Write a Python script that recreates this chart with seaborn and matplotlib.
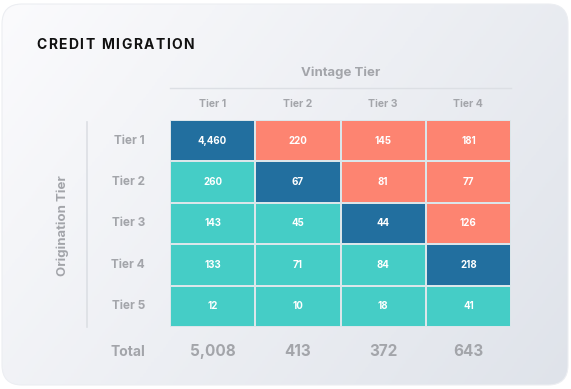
import numpy as np
import matplotlib.pyplot as plt
import seaborn as sns
from matplotlib.colors import ListedColormap, LinearSegmentedColormap
from matplotlib.patches import FancyBboxPatch

# data
origin_tiers = ["Tier 1", "Tier 2", "Tier 3", "Tier 4", "Tier 5"]
vintage_tiers = ["Tier 1", "Tier 2", "Tier 3", "Tier 4"]
counts = [
    [4460, 220, 145, 181],
    [260, 67, 81, 77],
    [143, 45, 44, 126],
    [133, 71, 84, 218],
    [12, 10, 18, 41],
]
totals = [5008, 413, 372, 643]

counts = np.array(counts)
rows, cols = np.indices(counts.shape)
# 0 = below diagonal, 1 = same tier, 2 = above diagonal
zone = np.sign(cols - rows) + 1
annot = np.vectorize(lambda v: f"{v:,}")(counts)

plt.rcParams['font.family'] = ['Inter', 'DejaVu Sans']
GREY = '#a3a5aa'

fig = plt.figure(figsize=(5.71, 3.89), dpi=100)

# card background with soft gradient
bg = fig.add_axes([0, 0, 1, 1])
bg.set_xlim(0, 571)
bg.set_ylim(389, 0)
bg.axis('off')
gx, gy = np.meshgrid(np.linspace(0, 1, 200), np.linspace(0, 1, 200))
grad = 0.65 * gx + 0.35 * gy
gcmap = LinearSegmentedColormap.from_list('card', ['#fbfbfd', '#dfe3ea'])
im = bg.imshow(grad, extent=[0, 571, 389, 0], cmap=gcmap, aspect='auto', zorder=0)
card = FancyBboxPatch((2, 4), 566, 381, boxstyle="round,pad=0,rounding_size=20",
                      fc='none', ec='#eceef2', lw=0.8, zorder=1)
bg.add_patch(card)
im.set_clip_path(card)

# title with letter spacing
renderer = fig.canvas.get_renderer()
x = 36
for ch in "CREDIT MIGRATION":
    t = bg.text(x, 49, ch, fontsize=10, fontweight='bold', color='#111111', va='baseline')
    w = t.get_window_extent(renderer).width
    if ch == ' ':
        w = 4
    x += w + 1.5

ax = fig.add_axes([170 / 571, 1 - 327 / 389, 341 / 571, 207 / 389])
cmap = ListedColormap(['#45cdc6', '#226f9f', '#fd8471'])
sns.heatmap(zone, cmap=cmap, vmin=-0.5, vmax=2.5, annot=annot, fmt='', cbar=False,
            linewidths=1.3, linecolor='#dbe6ea', ax=ax,
            annot_kws={'fontsize': 7, 'fontweight': 'bold', 'color': 'white'},
            xticklabels=vintage_tiers, yticklabels=origin_tiers)

ax.xaxis.tick_top()
ax.tick_params(axis='both', length=0, labelcolor=GREY)
ax.tick_params(axis='x', pad=8, labelsize=7.5)
ax.tick_params(axis='y', pad=18, labelsize=8.5)
plt.setp(ax.get_yticklabels(), rotation=0)
plt.setp(ax.get_xticklabels(), rotation=0)
for lab in ax.get_xticklabels() + ax.get_yticklabels():
    lab.set_fontweight('bold')

# axis headers
ax.text(2, -1.14, "Vintage Tier", ha='center', va='center', fontsize=9.5,
        fontweight='bold', color=GREY)
ax.plot([0, 4], [-0.77, -0.77], color='#dcdfe4', lw=1, clip_on=False)
ax.text(-1.26, 2.55, "Origination Tier", ha='center', va='center', rotation=90,
        fontsize=9.5, fontweight='bold', color=GREY)
ax.plot([-0.975, -0.975], [0.05, 5], color='#dcdfe4', lw=1.2, clip_on=False)

# totals row
ax.text(-0.49, 5.6, "Total", ha='center', va='center', fontsize=10,
        fontweight='bold', color=GREY)
for j, tot in enumerate(totals):
    ax.text(j + 0.5, 5.6, f"{tot:,}", ha='center', va='center', fontsize=11,
            fontweight='bold', color=GREY)

fig.savefig('out.png', dpi=100)
